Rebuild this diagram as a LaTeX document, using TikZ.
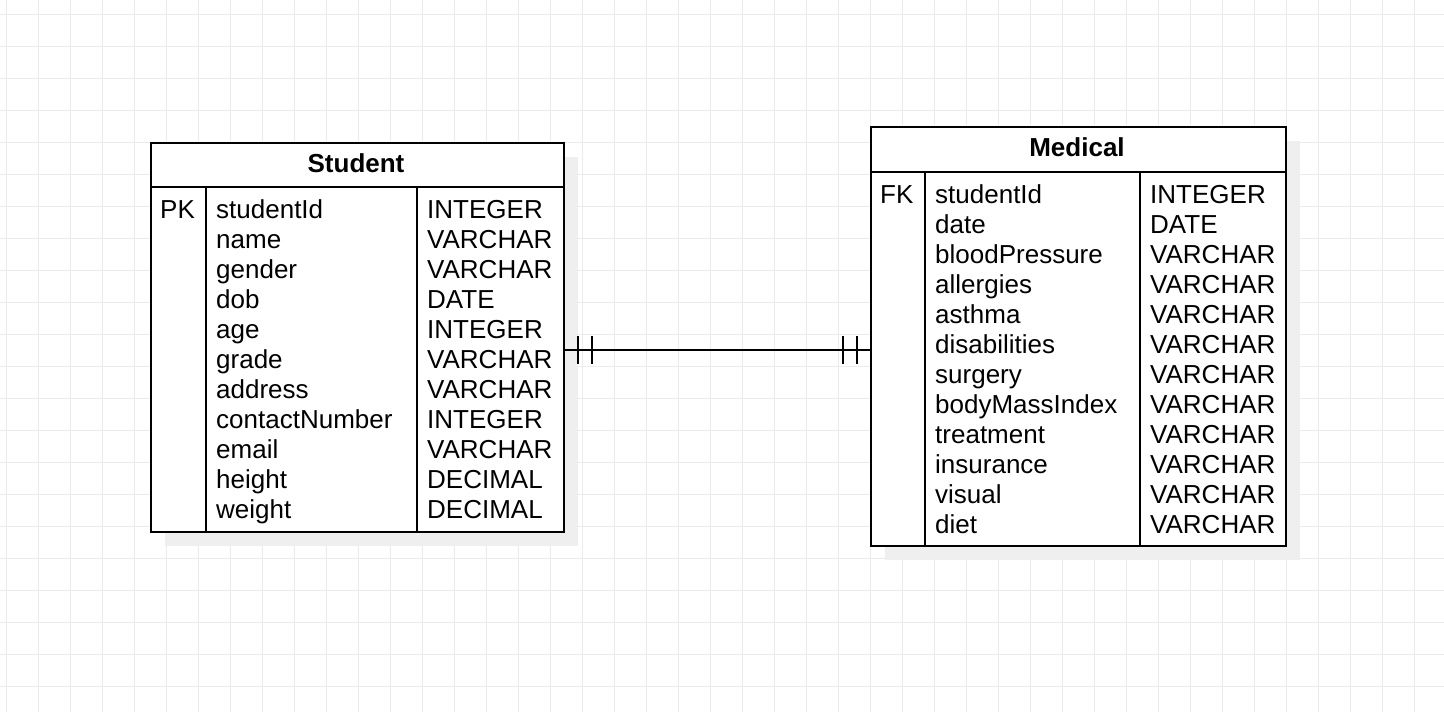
\documentclass[tikz,border=0pt]{standalone}
\usepackage{fontspec}
\setmainfont{Liberation Sans}
\usetikzlibrary{shadows}
\definecolor{gridgray}{HTML}{EBEBEB}
\definecolor{shadowgray}{HTML}{EFEFEF}
\tikzstyle{table} = [rectangle, draw, line width=2pt, fill=white, inner sep=0, anchor=north west, drop shadow={shadow xshift=14pt, shadow yshift=-14pt, fill=shadowgray, opacity=1}]
\tikzstyle{title} = [font=\fontsize{26}{30}\selectfont\bfseries, inner sep=0]
\tikzstyle{field} = [font=\fontsize{26}{30}\selectfont, inner sep=0, anchor=base west]
\tikzstyle{rule} = [draw, line width=2pt]
\tikzstyle{line} = [draw, line width=2pt]

\begin{document}
\begin{tikzpicture}[x=1pt, y=-1pt]
\useasboundingbox (0,0) rectangle (1444,712);
% grid
\foreach \gx in {6,38,...,1444} \draw[gridgray, line width=1pt] (\gx,0) -- (\gx,712);
\foreach \gy in {14,46,...,712} \draw[gridgray, line width=1pt] (0,\gy) -- (1444,\gy);

% Student
\node [table, minimum width=413pt, minimum height=389pt] (student) at (150,142) {};
\node [title] (studenttitle) at (356,163) {Student};
\path [rule] ([yshift=-45pt]student.north west) -- ([yshift=-45pt]student.north east);
\path [rule] ([xshift=56pt,yshift=-45pt]student.north west) -- ([xshift=56pt]student.south west);
\path [rule] ([xshift=267pt,yshift=-45pt]student.north west) -- ([xshift=267pt]student.south west);
\node [field] (studentkey) at (160,218) {PK};
\foreach \name/\type [count=\i] in {studentId/INTEGER, name/VARCHAR, gender/VARCHAR, dob/DATE, age/INTEGER, grade/VARCHAR, address/VARCHAR, contactNumber/INTEGER, email/VARCHAR, height/DECIMAL, weight/DECIMAL}{
  \node [field] (sname\i) at (216,188+30*\i) {\name};
  \node [field] (stype\i) at (427,188+30*\i) {\type};
}

% Medical
\node [table, minimum width=415pt, minimum height=419pt] (medical) at (870,126) {};
\node [title] (medicaltitle) at (1077,147) {Medical};
\path [rule] ([yshift=-46pt]medical.north west) -- ([yshift=-46pt]medical.north east);
\path [rule] ([xshift=55pt,yshift=-46pt]medical.north west) -- ([xshift=55pt]medical.south west);
\path [rule] ([xshift=270pt,yshift=-46pt]medical.north west) -- ([xshift=270pt]medical.south west);
\node [field] (medicalkey) at (880,203) {FK};
\foreach \name/\type [count=\i] in {studentId/INTEGER, date/DATE, bloodPressure/VARCHAR, allergies/VARCHAR, asthma/VARCHAR, disabilities/VARCHAR, surgery/VARCHAR, bodyMassIndex/VARCHAR, treatment/VARCHAR, insurance/VARCHAR, visual/VARCHAR, diet/VARCHAR}{
  \node [field] (mname\i) at (935,173+30*\i) {\name};
  \node [field] (mtype\i) at (1150,173+30*\i) {\type};
}

% one-to-one relation
\coordinate (rel) at (716,350);
\path [line] (student.east |- rel) -- (medical.west |- rel);
\foreach \d in {13,27} {
  \path [line] ([xshift=\d pt]student.east |- rel) ++(0,-14) -- ++(0,28);
  \path [line] ([xshift=-\d pt]medical.west |- rel) ++(0,-14) -- ++(0,28);
}

\end{tikzpicture}
\end{document}
